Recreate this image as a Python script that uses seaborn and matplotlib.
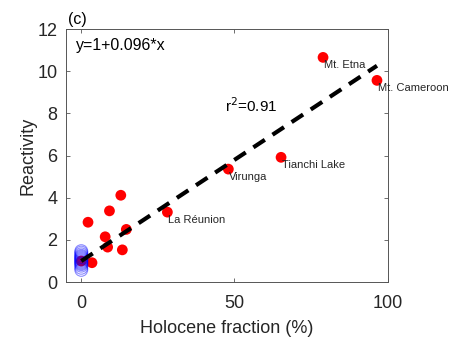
import numpy as np
import pandas as pd
import matplotlib
matplotlib.use("Agg")
import matplotlib.pyplot as plt
import seaborn as sns

# Data
red_x = [78.9, 96.5, 65.2, 48.0, 28.1, 12.9, 9.2, 2.2, 14.7, 7.8, 8.6, 13.4, 3.5, 0.0]
red_y = [10.66, 9.57, 5.92, 5.36, 3.32, 4.12, 3.38, 2.84, 2.50, 2.15, 1.66, 1.53, 0.92, 1.0]
red_labels = ["Mt. Etna", "Mt. Cameroon", "Tianchi Lake", "Virunga", "La Réunion",
              "", "", "", "", "", "", "", "", ""]
blue_x = [0.0] * 15
blue_y = [0.58, 0.68, 0.78, 0.85, 0.9, 0.95, 1.0, 1.05, 1.1, 1.15, 1.2, 1.25, 1.32, 1.4, 1.47]
fit_a, fit_b = 1.0, 0.096
r2 = 0.91
xticks = [0, 50, 100]
yticks = [0, 2, 4, 6, 8, 10, 12]

sns.set_style("ticks")
plt.rcParams['font.family'] = ['Liberation Sans', 'DejaVu Sans']
txt = "#262626"

fig = plt.figure(figsize=(4.58, 3.47), dpi=100)
ax = fig.add_axes([0.144, 0.187, 0.7025, 0.729])

red_df = pd.DataFrame({"x": red_x, "y": red_y})
blue_df = pd.DataFrame({"x": blue_x, "y": blue_y})

sns.scatterplot(data=red_df, x="x", y="y", ax=ax, color="red", s=60,
                edgecolor="none", zorder=2)
sns.scatterplot(data=blue_df, x="x", y="y", ax=ax, facecolor="none",
                edgecolor="blue", s=85, linewidth=0.8, alpha=0.45, zorder=3)

fx = np.array([0.0, max(red_x)])
fit_df = pd.DataFrame({"x": fx, "y": fit_a + fit_b * fx})
sns.lineplot(data=fit_df, x="x", y="y", ax=ax, color="black", linewidth=3,
             dashes=False, zorder=4)
ax.lines[-1].set_dashes([3.3, 2.2])

for x, y, lab in zip(red_x, red_y, red_labels):
    if lab:
        ax.text(x + 0.3, y - 0.12, lab, fontsize=8, color=txt, va="top", ha="left", zorder=5)

ax.text(0.03, 0.965, f"y={fit_a:g}+{fit_b:g}*x", transform=ax.transAxes,
        fontsize=11.5, color="black", va="top", ha="left")
ax.text(47, 7.95, f"r$^2$={r2:g}", fontsize=11, color="black", ha="left", va="bottom")
ax.text(0.005, 1.01, "(c)", transform=ax.transAxes, fontsize=11.5, color="black",
        ha="left", va="bottom")

ax.set_xlim(-5, 100)
ax.set_ylim(0, 12)
ax.set_xticks(xticks)
ax.set_yticks(yticks)
ax.set_xlabel("Holocene fraction (%)", fontsize=13, color=txt, labelpad=6)
ax.set_ylabel("Reactivity", fontsize=13, color=txt, labelpad=1)
ax.tick_params(direction="in", top=True, right=True, length=3, width=0.6,
               labelsize=13, colors="#555555", labelcolor=txt)
ax.tick_params(axis="x", pad=9)
ax.tick_params(axis="y", pad=6)
for s in ax.spines.values():
    s.set_visible(True)
    s.set_color("#555555")
    s.set_linewidth(0.7)
ax.grid(False)

fig.savefig("out.png", dpi=100)
